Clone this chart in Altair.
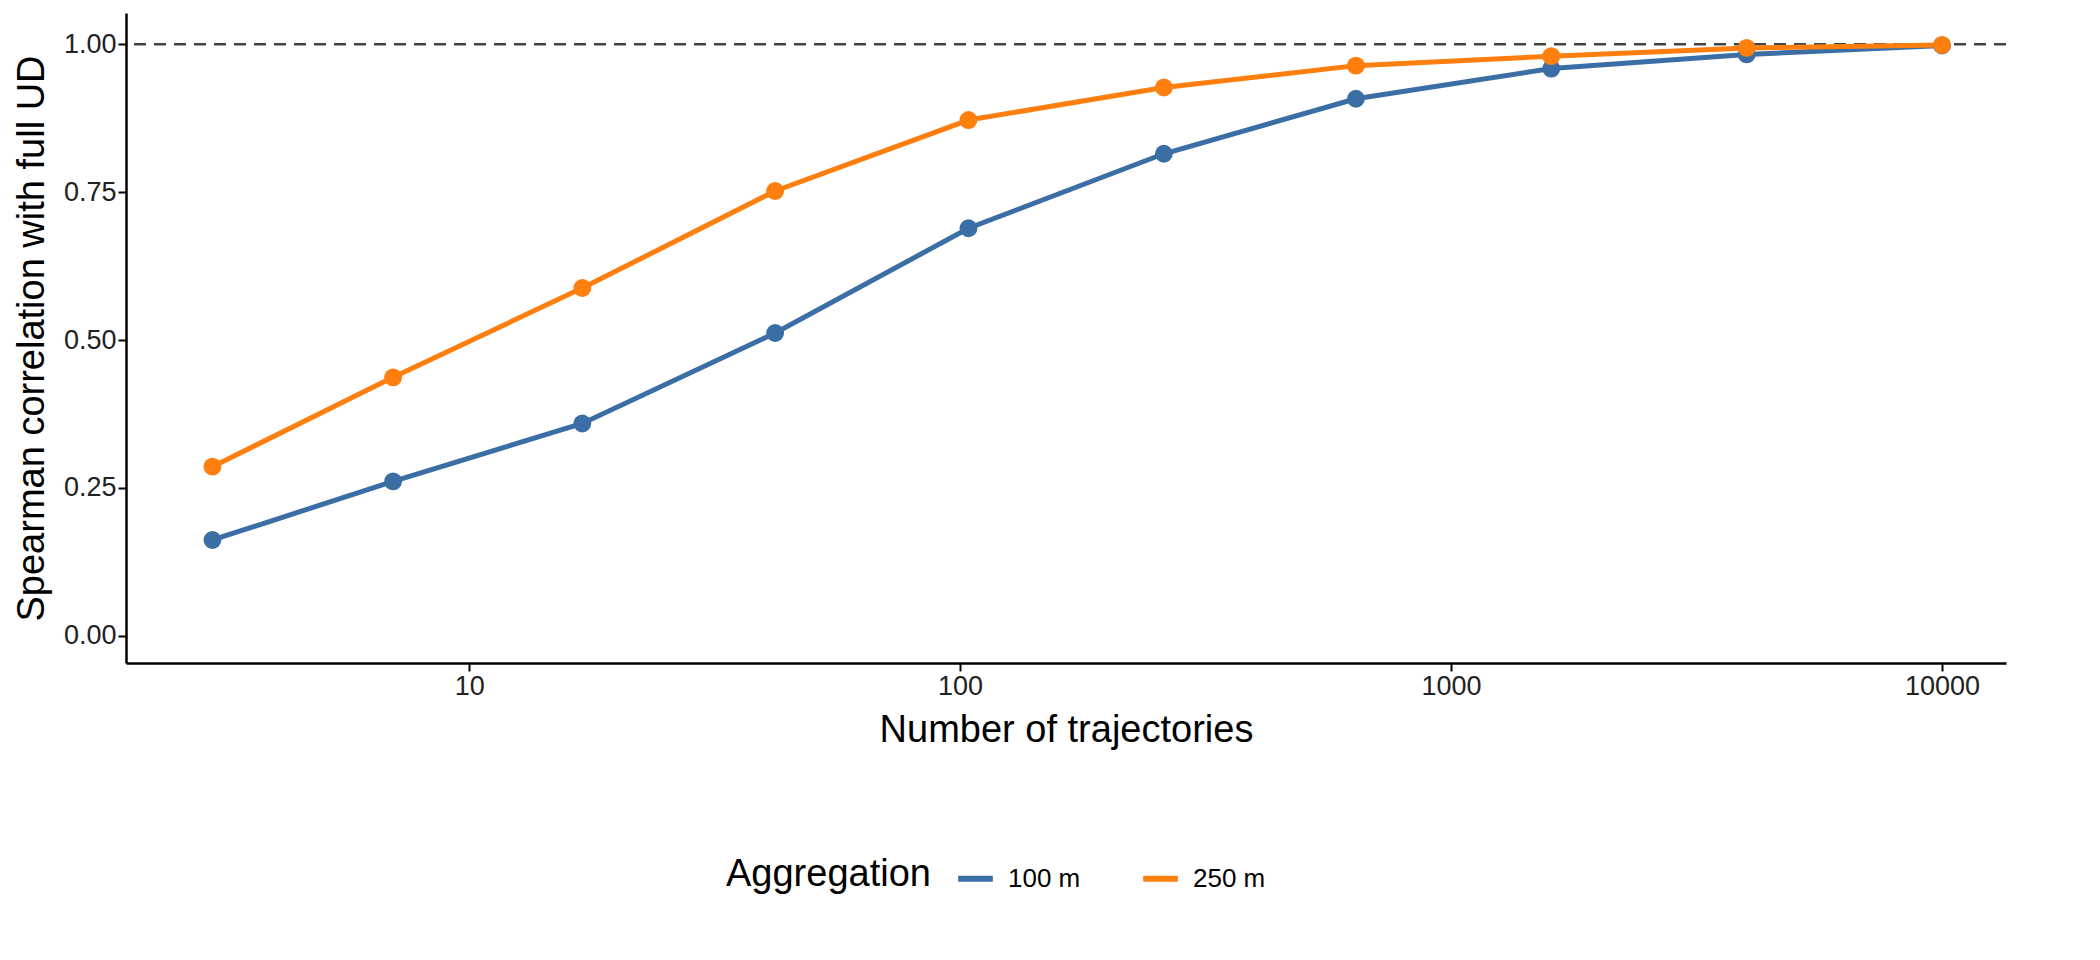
import altair as alt
import pandas as pd

n_traj = [3, 7, 17, 42, 104, 260, 640, 1600, 4000, 10000]
blue = [0.162, 0.261, 0.359, 0.512, 0.689, 0.815, 0.908, 0.959, 0.983, 0.998]
orange = [0.286, 0.437, 0.588, 0.752, 0.872, 0.927, 0.964, 0.980, 0.994, 0.999]
groups = ["100 m", "250 m"]

rows = []
for x, b, o in zip(n_traj, blue, orange):
    rows.append({"n": x, "r": b, "Aggregation": groups[0]})
    rows.append({"n": x, "r": o, "Aggregation": groups[1]})
df = pd.DataFrame(rows)

color = alt.Color("Aggregation:N",
                  scale=alt.Scale(domain=groups, range=["#3a6ea5", "#ff7f0e"]),
                  legend=alt.Legend(orient="none", legendX=600, legendY=845,
                                    direction="horizontal",
                                    titleOrient="left", titleFontSize=38,
                                    titleFontWeight="normal", labelFontSize=26,
                                    titleLimit=400, labelLimit=300,
                                    symbolType="stroke", symbolStrokeWidth=6,
                                    symbolSize=1200, titlePadding=24,
                                    columnPadding=50, labelOffset=12))

x = alt.X("n:Q", scale=alt.Scale(type="log", domain=[2, 13500], nice=False),
          axis=alt.Axis(values=[10, 100, 1000, 10000], format="d",
                        title="Number of trajectories"))
y = alt.Y("r:Q", scale=alt.Scale(domain=[-0.046, 1.053], nice=False),
          axis=alt.Axis(values=[0, 0.25, 0.5, 0.75, 1.0], format=".2f",
                        title="Spearman correlation with full UD"))

lines = alt.Chart(df).mark_line(strokeWidth=5).encode(x=x, y=y, color=color)
pts = alt.Chart(df).mark_circle(size=320, opacity=1).encode(x=x, y=y, color=color)
rule = alt.Chart(pd.DataFrame({"r": [1.0]})).mark_rule(
    strokeDash=[12, 8], color="#444", strokeWidth=2.5).encode(y="r:Q")

chart = (rule + lines + pts).properties(width=1880, height=650).configure_view(
    stroke=None).configure_axis(
    grid=False, domainColor="black", domainWidth=2.5, tickColor="black",
    tickWidth=2, tickSize=8, labelFontSize=27, labelColor="#222",
    titleFontSize=38, titleFontWeight="normal", titleColor="black",
    labelFont="Liberation Sans", titleFont="Liberation Sans",
    titlePadding=12).configure_legend(labelFont="Liberation Sans",
                                       titleFont="Liberation Sans")

chart.save("out.html", embed_options={"renderer": "svg", "actions": False})
